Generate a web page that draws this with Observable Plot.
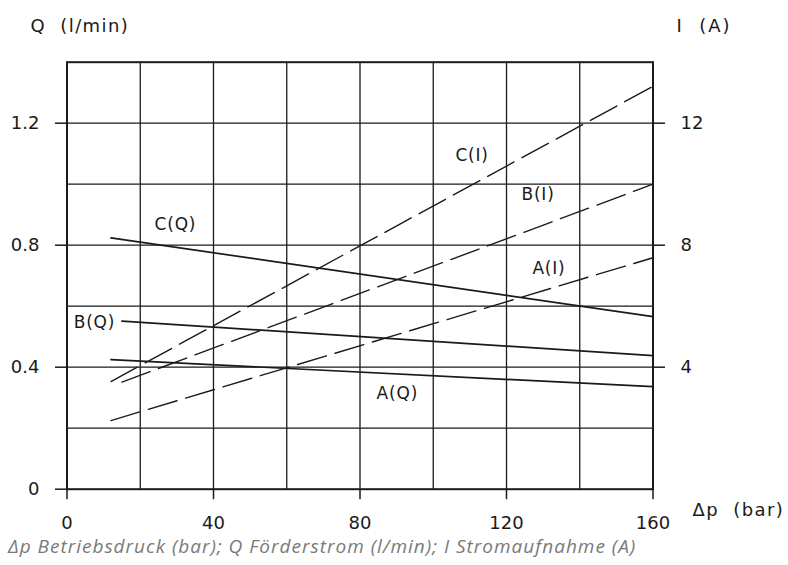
<!DOCTYPE html>
<html>
<head>
<meta charset="utf-8">
<script src="https://cdn.jsdelivr.net/npm/d3@7"></script>
<script src="https://cdn.jsdelivr.net/npm/@observablehq/plot@0.6"></script>
<style>
  html, body { margin: 0; padding: 0; background: #fff; }
  #chart svg { display: block; }
  #caption {
    font-family: "Open Sans", sans-serif;
    font-style: italic;
    font-size: 19px;
    letter-spacing: 1px;
    color: #7a7a7a;
    line-height: 28px;
    padding-left: 8px;
    white-space: nowrap;
  }
  .t-q text { letter-spacing: 1.4px; }
  .t-i text { letter-spacing: 2px; }
  .t-p text { letter-spacing: 1.4px; }
  .t-lab text { letter-spacing: 0.8px; }
</style>
</head>
<body>
<div id="chart"></div>
<div id="caption">Δp Betriebsdruck (bar); Q Förderstrom (l/min); I Stromaufnahme (A)</div>
<script>
// Operating pressure Δp (bar) at line endpoints
const pA_Q = [12, 160];
const pB_Q = [15, 160];
const pC_Q = [12, 160];
const pA_I = [12, 160];
const pB_I = [15, 160];
const pC_I = [12, 160];

// Flow Q (l/min)
const qA = [0.425, 0.336];
const qB = [0.551, 0.438];
const qC = [0.824, 0.566];

// Current I (A)
const iA = [2.25, 7.59];
const iB = [3.51, 10.0];
const iC = [3.53, 13.21];

// Tick values
const xTicks = [0, 40, 80, 120, 160];
const gridX = [20, 40, 60, 80, 100, 120, 140];
const gridY = [0.2, 0.4, 0.6, 0.8, 1.0, 1.2];
const qTicks = [0, 0.4, 0.8, 1.2];
const iTicks = [4, 8, 12];

// Curve labels (pressure, Q-scale position)
const labelNames = ["C(Q)", "B(Q)", "A(Q)", "C(I)", "B(I)", "A(I)"];
const labelP = [29.6, 7.5, 90.2, 110.6, 128.6, 131.6];
const labelQ = [0.868, 0.547, 0.313, 1.094, 0.966, 0.722];

const I_PER_Q = 10; // right axis: 1 l/min on the left equals 10 A on the right

const mk = (p, v, scale = 1) => p.map((x, i) => ({p: x, v: v[i] / scale}));
const solid = [mk(pA_Q, qA), mk(pB_Q, qB), mk(pC_Q, qC)];
const dashed = [mk(pA_I, iA, I_PER_Q), mk(pB_I, iB, I_PER_Q), mk(pC_I, iC, I_PER_Q)];
const labels = labelNames.map((t, i) => ({t, p: labelP[i], v: labelQ[i]}));

const font = "DejaVu Sans, sans-serif";
const ink = "#1a1a1a";

const chart = Plot.plot({
  width: 788,
  height: 532,
  marginLeft: 66.5,
  marginRight: 135.5,
  marginTop: 61.7,
  marginBottom: 43.3,
  style: {fontFamily: font, fontSize: "18px", color: ink, background: "#fff"},
  x: {domain: [0, 160]},
  y: {domain: [0, 1.4]},
  marks: [
    Plot.ruleX(gridX, {stroke: ink, strokeWidth: 1.3}),
    Plot.ruleY(gridY, {stroke: ink, strokeWidth: 1.3}),
    Plot.frame({stroke: ink, strokeWidth: 2}),
    Plot.axisY(qTicks, {anchor: "left", tickSize: 11.5, tickPadding: 16, strokeWidth: 1.5,
      tickFormat: d => String(d), label: null, fontSize: 18}),
    Plot.axisY(iTicks.map(d => d / I_PER_Q), {anchor: "right", tickSize: 11.5, tickPadding: 16, strokeWidth: 1.5,
      tickFormat: d => String(Math.round(d * I_PER_Q)), label: null, fontSize: 18}),
    Plot.axisX(xTicks, {anchor: "bottom", tickSize: 10.5, tickPadding: 17, strokeWidth: 1.5,
      tickFormat: d => String(d), label: null, fontSize: 18}),
    ...solid.map(d => Plot.line(d, {x: "p", y: "v", stroke: ink, strokeWidth: 1.7})),
    ...dashed.map(d => Plot.line(d, {x: "p", y: "v", stroke: ink, strokeWidth: 1.4, strokeDasharray: "30,9"})),
    Plot.text(labels, {x: "p", y: "v", text: "t", fontSize: 17, fill: ink, textAnchor: "middle", lineAnchor: "middle",
      fontFamily: font, className: "t-lab"}),
    Plot.text(["Q  (l/min)"], {frameAnchor: "top-left", textAnchor: "start", lineAnchor: "middle",
      dx: -36.5, dy: -35.7, fontSize: 18, fill: ink, className: "t-q"}),
    Plot.text(["I  (A)"], {frameAnchor: "top-right", textAnchor: "start", lineAnchor: "middle",
      dx: 23.5, dy: -35.7, fontSize: 18, fill: ink, className: "t-i"}),
    Plot.text(["Δp  (bar)"], {frameAnchor: "bottom-right", textAnchor: "start", lineAnchor: "middle",
      dx: 39.5, dy: 21.3, fontSize: 18, fill: ink, className: "t-p"})
  ]
});
document.getElementById("chart").appendChild(chart);
</script>
</body>
</html>
